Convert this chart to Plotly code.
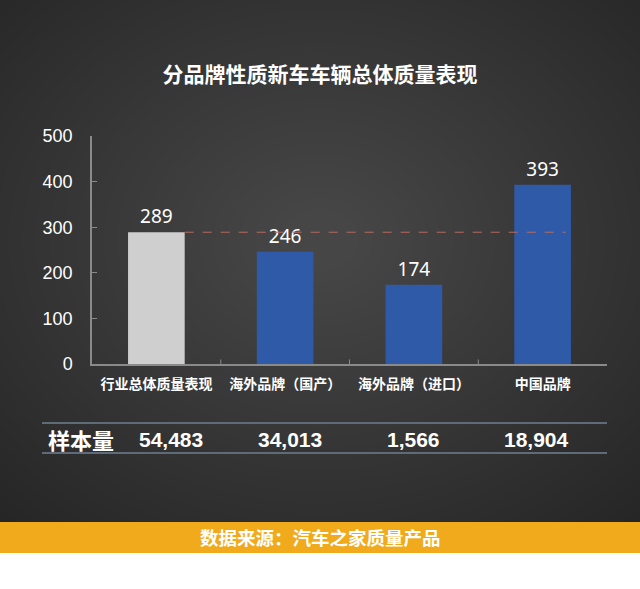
import plotly.graph_objects as go

# chart data
categories = ["行业总体质量表现", "海外品牌（国产）", "海外品牌（进口）", "中国品牌"]
scores = [289, 246, 174, 393]
sample_sizes = ["54,483", "34,013", "1,566", "18,904"]
bar_colors = ["#cfcfcf", "#2f5aa8", "#2f5aa8", "#2f5aa8"]

W, H = 640, 589
L, R, T, B = 92, 33, 136, 225
plot_w = W - L - R
plot_h = H - T - B
cjk = "Noto Sans CJK SC"


# helpers: page pixels -> paper coords
def px(p):
    return (p - L) / plot_w


def py(p):
    return (H - B - p) / plot_h


bar_w = 0.44

fig = go.Figure()
fig.add_trace(go.Bar(
    x=list(range(len(categories))),
    y=scores,
    width=bar_w,
    marker=dict(color=bar_colors, line=dict(width=0)),
    text=[str(v) for v in scores],
    textposition="outside",
    textfont=dict(family="Noto Sans", size=19, color="white"),
    cliponaxis=False,
    hoverinfo="skip",
))

shapes = []
# soft radial glow in the background (many faint layers)
n_layers = 32
for i in range(n_layers):
    r = 440 - i * 13
    shapes.append(dict(
        type="circle", xref="paper", yref="paper", layer="below",
        x0=px(320 - r * 1.05), x1=px(320 + r * 1.05),
        y0=py(240 - r * 0.85), y1=py(240 + r * 0.85),
        fillcolor="rgba(255,255,255,0.0085)", line=dict(width=0),
    ))

# industry average reference line
shapes.append(dict(
    type="line", xref="x", yref="y",
    x0=0 + bar_w / 2, x1=len(categories) - 1 + bar_w / 2 - 0.04,
    y0=scores[0], y1=scores[0],
    line=dict(color="#b86a5e", width=1, dash="dash"),
))

# sample-size table rules
for yy in (423, 453):
    shapes.append(dict(
        type="line", xref="paper", yref="paper",
        x0=px(42), x1=px(607), y0=py(yy), y1=py(yy),
        line=dict(color="#5f6b78", width=1.8),
    ))

# source band and white strip at bottom
shapes.append(dict(
    type="rect", xref="paper", yref="paper",
    x0=px(-2), x1=px(W + 2), y0=py(522), y1=py(553),
    fillcolor="#f0aa1c", line=dict(width=0),
))
shapes.append(dict(
    type="rect", xref="paper", yref="paper",
    x0=px(-2), x1=px(W + 2), y0=py(553), y1=py(H + 2),
    fillcolor="#ffffff", line=dict(width=0),
))

# boundary ticks between categories
for k in range(1, len(categories)):
    shapes.append(dict(type="line", xref="x", yref="y", x0=k - 0.5, x1=k - 0.5,
                       y0=0, y1=10, line=dict(color="#8a8a8a", width=1)))

annotations = [
    dict(text="<b>样本量</b>", xref="paper", yref="paper",
         x=px(46), y=py(439), xanchor="left", yanchor="middle", showarrow=False,
         font=dict(family=cjk, size=22, color="white")),
    dict(text="<b>数据来源：汽车之家质量产品</b>", xref="paper", yref="paper",
         x=px(320), y=py(537), xanchor="center", yanchor="middle", showarrow=False,
         font=dict(family=cjk, size=18.5, color="white")),
]
shifts = [15, 5, 0, -6]
for i, s in enumerate(sample_sizes):
    annotations.append(dict(
        text="<b>" + s + "</b>", xref="x", yref="paper",
        x=i, y=py(439), xshift=shifts[i], xanchor="center", yanchor="middle",
        showarrow=False,
        font=dict(family="Liberation Sans", size=21, color="white"),
    ))

fig.update_layout(
    width=W, height=H,
    margin=dict(l=L, r=R, t=T, b=B),
    paper_bgcolor="#262626",
    plot_bgcolor="rgba(0,0,0,0)",
    showlegend=False,
    title=dict(text="<b>分品牌性质新车车辆总体质量表现</b>", x=0.5, xanchor="center",
               y=1 - 75 / H, yanchor="middle",
               font=dict(family=cjk, size=21, color="white")),
    shapes=shapes,
    annotations=annotations,
    bargap=0.56,
)
fig.update_xaxes(
    tickvals=list(range(len(categories))),
    ticktext=["<b>" + c + "</b>" for c in categories],
    tickfont=dict(family=cjk, size=14, color="white"),
    range=[-0.5, len(categories) - 0.5],
    showgrid=False, zeroline=False,
    showline=True, linecolor="#8a8a8a", linewidth=1.5,
    ticks="", ticklabelstandoff=6,
)
fig.update_yaxes(
    range=[0, 500], dtick=100,
    tickfont=dict(family="Liberation Sans", size=18, color="white"),
    showgrid=False, zeroline=False,
    showline=True, linecolor="#8a8a8a", linewidth=1.5,
    ticks="inside", ticklen=5, tickcolor="#8a8a8a",
    ticklabelstandoff=14,
)

# drop the default page margin so the figure sits at the window origin
fig.write_html("out.html", config={"displayModeBar": False},
               post_script="document.body.style.margin='0';")
